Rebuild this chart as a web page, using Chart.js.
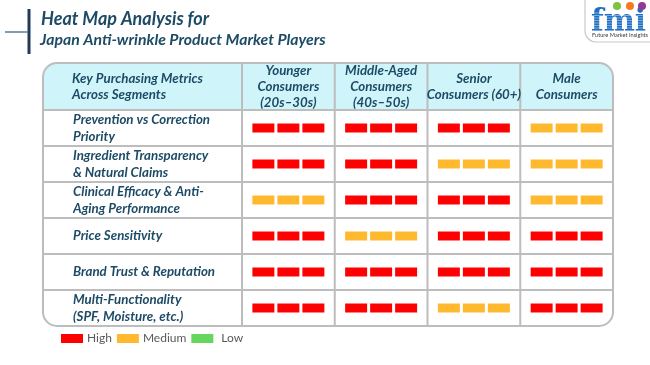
<!DOCTYPE html>
<html>
<head>
<meta charset="utf-8">
<script src="https://cdn.jsdelivr.net/npm/chart.js@4.4.1/dist/chart.umd.min.js"></script>
<style>
  html, body { margin: 0; padding: 0; background: #ffffff; }
  #wrap { width: 650px; height: 365px; position: relative; }
</style>
</head>
<body>
<div id="wrap"><canvas id="c" width="650" height="365"></canvas></div>
<script>
// ---------- data ----------
const titleLine1 = 'Heat Map Analysis for';
const titleLine2 = 'Japan Anti-wrinkle Product Market Players';
const cornerHeader = ['Key Purchasing Metrics', 'Across Segments'];
const segments = [
  ['Younger', 'Consumers', '(20s–30s)'],
  ['Middle-Aged', 'Consumers', '(40s–50s)'],
  ['Senior', 'Consumers (60+)'],
  ['Male', 'Consumers']
];
const metrics = [
  ['Prevention vs Correction', 'Priority'],
  ['Ingredient Transparency', '& Natural Claims'],
  ['Clinical Efficacy & Anti-', 'Aging Performance'],
  ['Price Sensitivity'],
  ['Brand Trust & Reputation'],
  ['Multi-Functionality', '(SPF, Moisture, etc.)']
];
const levels = ['High', 'Medium', 'Low'];
const younger    = ['High', 'High', 'Medium', 'High', 'High', 'High'];
const middleAged = ['High', 'High', 'High', 'Medium', 'High', 'High'];
const senior     = ['High', 'Medium', 'High', 'High', 'High', 'Medium'];
const male       = ['Medium', 'Medium', 'Medium', 'High', 'High', 'High'];
const marksPerCell = 3;
const logoWord = 'fmi';
const logoTag = 'Future Market Insights';

// ---------- styles ----------
const levelColors = { High: '#FF0000', Medium: '#FFB92E', Low: '#66D65E' };
const textColor = '#1D4B66';
const FONT = 'Lato, "Open Sans", sans-serif';
const gridColor = '#BDBDBD';
const headerFill = '#CFF5FA';
const LABEL_SIZE = 13.3;

// ---------- build datasets ----------
const rowKeys = metrics.map(m => m.join(' '));
const columns = [younger, middleAged, senior, male];
const markW = 0.237, markGap = 0.0325;
const markPad = (1 - marksPerCell * markW - (marksPerCell - 1) * markGap) / 2;
const datasets = levels.map(level => ({
  label: level,
  backgroundColor: levelColors[level],
  borderWidth: 0,
  borderSkipped: false,
  grouped: false,
  maxBarThickness: 9,
  data: []
}));
columns.forEach((col, c) => {
  col.forEach((lvl, r) => {
    for (let k = 0; k < marksPerCell; k++) {
      const s = c + markPad + k * (markW + markGap);
      datasets[levels.indexOf(lvl)].data.push({ x: [s, s + markW], y: rowKeys[r] });
    }
  });
});

const TABLE_TOP = 63, TABLE_LEFT = 43, RADIUS = 14;

function roundedRectPath(ctx, x, y, w, h, r) {
  ctx.beginPath();
  ctx.moveTo(x + r, y);
  ctx.lineTo(x + w - r, y);
  ctx.arcTo(x + w, y, x + w, y + r, r);
  ctx.lineTo(x + w, y + h - r);
  ctx.arcTo(x + w, y + h, x + w - r, y + h, r);
  ctx.lineTo(x + r, y + h);
  ctx.arcTo(x, y + h, x, y + h - r, r);
  ctx.lineTo(x, y + r);
  ctx.arcTo(x, y, x + r, y, r);
  ctx.closePath();
}

const tablePlugin = {
  id: 'tablePlugin',
  beforeDraw(chart) {
    const ctx = chart.ctx;
    const area = chart.chartArea;
    const xs = chart.scales.x, ys = chart.scales.y;
    ctx.save();
    // ---- title decoration ----
    ctx.strokeStyle = '#1E3C58';
    ctx.lineWidth = 3;
    ctx.beginPath(); ctx.moveTo(29, 9); ctx.lineTo(29, 54); ctx.stroke();
    ctx.strokeStyle = '#5A7D96';
    ctx.lineWidth = 1.5;
    ctx.beginPath(); ctx.moveTo(5, 32); ctx.lineTo(28, 32); ctx.stroke();
    ctx.fillStyle = textColor;
    ctx.textBaseline = 'middle';
    ctx.textAlign = 'left';
    ctx.font = 'italic bold 18px ' + FONT;
    ctx.fillText(titleLine1, 41, 19);
    ctx.font = 'italic bold 15.8px ' + FONT;
    ctx.fillText(titleLine2, 40, 40);

    // ---- logo ----
    ctx.strokeStyle = '#C9C9C9';
    ctx.lineWidth = 1.2;
    ctx.beginPath();
    ctx.moveTo(585, 0); ctx.lineTo(585, 31);
    ctx.arcTo(585, 42, 596, 42, 11);
    ctx.lineTo(650, 42);
    ctx.stroke();
    ctx.fillStyle = '#1F6FC5';
    ctx.font = 'bold 31px "DejaVu Serif", serif';
    ctx.textBaseline = 'alphabetic';
    const lw = ctx.measureText(logoWord).width;
    ctx.save();
    ctx.translate(591, 31);
    ctx.scale(55 / lw, 1);
    ctx.fillText(logoWord, 0, 0);
    ctx.restore();
    ctx.strokeStyle = 'rgba(255,255,255,0.55)';
    ctx.lineWidth = 0.8;
    for (let y = 13; y < 31; y += 2.5) {
      ctx.beginPath(); ctx.moveTo(590, y); ctx.lineTo(648, y); ctx.stroke();
    }
    [['#7DC242', 617], ['#F47B20', 630], ['#8E3A96', 642]].forEach(([col, cx]) => {
      ctx.fillStyle = col;
      ctx.beginPath(); ctx.arc(cx, 6, 4, 0, Math.PI * 2); ctx.fill();
    });
    ctx.fillStyle = '#3A3A3A';
    ctx.font = '6px ' + FONT;
    ctx.textBaseline = 'middle';
    const tw = ctx.measureText(logoTag).width;
    ctx.save();
    ctx.translate(592, 35.5);
    ctx.scale(56 / tw, 1);
    ctx.fillText(logoTag, 0, 0);
    ctx.restore();

    // ---- table background ----
    const tw2 = area.right - TABLE_LEFT, th = area.bottom - TABLE_TOP;
    ctx.save();
    roundedRectPath(ctx, TABLE_LEFT, TABLE_TOP, tw2, th, RADIUS);
    ctx.clip();
    ctx.fillStyle = headerFill;
    ctx.fillRect(TABLE_LEFT, TABLE_TOP, tw2, area.top - TABLE_TOP);
    ctx.restore();

    // ---- grid lines ----
    ctx.strokeStyle = gridColor;
    ctx.lineWidth = 2;
    ctx.beginPath();
    const hLines = [area.top];
    for (let i = 1; i < rowKeys.length; i++) {
      hLines.push((ys.getPixelForValue(i - 1) + ys.getPixelForValue(i)) / 2);
    }
    hLines.forEach(y => { ctx.moveTo(TABLE_LEFT, y); ctx.lineTo(area.right, y); });
    for (let c = 0; c < columns.length; c++) {
      const x = xs.getPixelForValue(c);
      ctx.moveTo(x, TABLE_TOP); ctx.lineTo(x, area.bottom);
    }
    ctx.stroke();
    roundedRectPath(ctx, TABLE_LEFT, TABLE_TOP, tw2, th, RADIUS);
    ctx.stroke();

    // ---- corner header ----
    ctx.fillStyle = textColor;
    ctx.font = 'italic bold ' + LABEL_SIZE + 'px ' + FONT;
    ctx.textAlign = 'left';
    ctx.textBaseline = 'middle';
    const midH = (TABLE_TOP + area.top) / 2;
    ctx.fillText(cornerHeader[0], 72, midH - 8);
    ctx.fillText(cornerHeader[1], 72, midH + 8);
    ctx.restore();
  },
  afterDraw(chart) {
    const ctx = chart.ctx;
    ctx.save();
    ctx.font = '12px ' + FONT;
    ctx.textBaseline = 'middle';
    ctx.textAlign = 'left';
    let x = 61;
    const y = 338.5;
    chart.data.datasets.forEach((ds, i) => {
      ctx.fillStyle = ds.backgroundColor;
      ctx.fillRect(x, y - 4.5, 22, 9);
      x += 22 + (i === chart.data.datasets.length - 1 ? 8 : 4);
      ctx.fillStyle = '#595959';
      ctx.fillText(ds.label, x, y);
      x += ctx.measureText(ds.label).width + 5;
    });
    ctx.restore();
  }
};

new Chart(document.getElementById('c'), {
  type: 'bar',
  data: { labels: rowKeys, datasets },
  options: {
    indexAxis: 'y',
    responsive: false,
    animation: false,
    layout: { padding: { left: 73, top: TABLE_TOP, right: 37, bottom: 39 } },
    plugins: { legend: { display: false }, tooltip: { enabled: false }, title: { display: false } },
    scales: {
      x: {
        type: 'linear',
        position: 'top',
        min: 0,
        max: columns.length,
        afterBuildTicks: s => { s.ticks = segments.map((_, i) => ({ value: i + 0.5 })); },
        afterFit: s => { s.height = 47; },
        grid: { display: false, drawTicks: false },
        border: { display: false },
        ticks: {
          autoSkip: false,
          maxRotation: 0,
          minRotation: 0,
          crossAlign: 'center',
          padding: 7.5,
          color: textColor,
          font: { family: FONT, size: LABEL_SIZE, weight: 'bold', style: 'italic', lineHeight: '16px' },
          callback: (v, i) => segments[i]
        }
      },
      y: {
        type: 'category',
        afterFit: s => { s.width = 242 - 73; },
        grid: { display: false, drawTicks: false },
        border: { display: false },
        ticks: {
          crossAlign: 'far',
          autoSkip: false,
          color: textColor,
          font: { family: FONT, size: LABEL_SIZE, weight: 'bold', style: 'italic', lineHeight: '16.5px' },
          callback: (v, i) => metrics[i]
        }
      }
    }
  },
  plugins: [tablePlugin]
});
</script>
</body>
</html>
